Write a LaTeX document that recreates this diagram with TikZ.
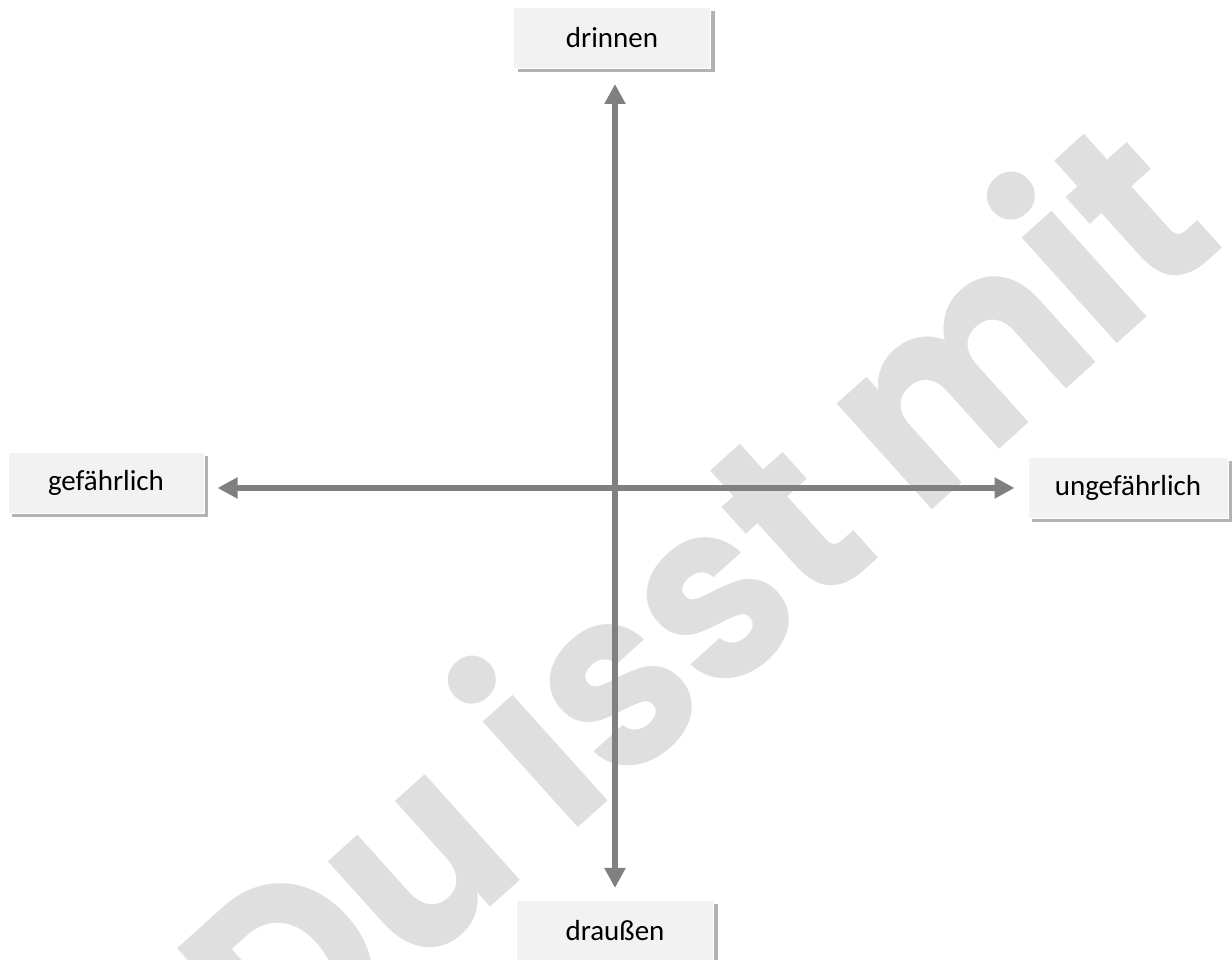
\documentclass[tikz,border=0pt]{standalone}
\usepackage{fontspec}
\setmainfont{Carlito}
\newfontfamily\wmfont{Poppins}
\usepackage{xcolor}
\usepackage{tikz}
\usetikzlibrary{arrows.meta, positioning, shadows}
\definecolor{boxgray}{RGB}{242, 242, 242}
\definecolor{axisgray}{RGB}{128, 128, 128}
\definecolor{markgray}{RGB}{223, 223, 223}

\begin{document}
\begin{tikzpicture}[
    x=1pt, y=1pt,
    every node/.style={font=\fontsize{29}{34}\selectfont},
    pole/.style={rectangle, fill=boxgray, draw=white, line width=1pt, minimum width=197pt, minimum height=61pt, inner sep=0pt,
        drop shadow={fill=black, opacity=0.3, shadow xshift=4pt, shadow yshift=-4pt}},
    axis/.style={{Triangle[length=20pt, width=20pt]}-{Triangle[length=20pt, width=20pt]}, line width=6pt, draw=axisgray}
]
\useasboundingbox (0,0) rectangle (1232,960);
\clip (0,0) rectangle (1232,960);
% watermark behind everything
\node[text=markgray, rotate=42, xscale=0.92, font=\wmfont\bfseries\fontsize{255}{265}\selectfont] (mark) at (690,368) {Du isst mit};
\node[pole] (drinnen) at (612,922) {drinnen};
\node[pole] (draussen) at (615,29) {draußen};
\node[pole, minimum width=196pt] (gef) at (106,477) {gefährlich};
\node[pole, minimum width=200pt] (ungef) at (1128,472) {ungefährlich};
\draw[axis, shorten <=15pt, shorten >=12pt] (drinnen.south -| draussen) -- (draussen.north);
\draw[axis, shorten <=13pt, shorten >=13pt] (gef.east |- ungef) -- (ungef.west);
\end{tikzpicture}
\end{document}
